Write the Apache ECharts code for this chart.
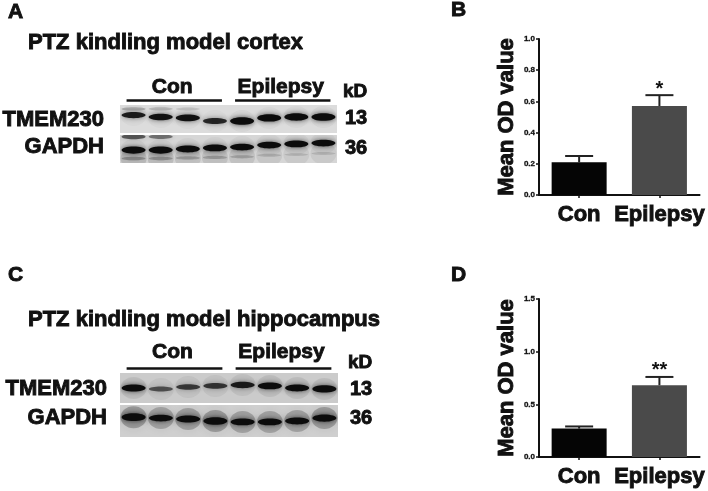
<!DOCTYPE html>
<html>
<head>
<meta charset="utf-8">
<title>TMEM230 blots</title>
<script src="https://cdn.jsdelivr.net/npm/echarts@6/dist/echarts.min.js"></script>
<style>
  html, body { margin: 0; padding: 0; background: #fff; }
  #chart { width: 708px; height: 491px; filter: blur(0.75px); }
</style>
</head>
<body>
<div id="chart"></div>
<script>
const groups = ['Con', 'Epilepsy']

// bar heights and error bar tops
const meanB = [0.21, 0.57]
const errTopB = [0.25, 0.64]
const starsB = ['', '*']
const meanD = [0.27, 0.68]
const errTopD = [0.29, 0.76]
const starsD = ['', '**']

// blot lanes, migration is 0 (top of strip) to 1 (bottom of strip)
const lanes = ['1', '2', '3', '4', '5', '6', '7', '8']
const conLanes = [0, 3]
const epiLanes = [4, 7]

const cortexTmemPos = [0.36, 0.43, 0.46, 0.57, 0.57, 0.46, 0.43, 0.43]
const cortexTmemInt = [0.75, 0.8, 0.8, 0.7, 1, 0.95, 0.95, 1]
const cortexTmemTopPos = [0.14, 0.14, 0.14]
const cortexTmemTopInt = [0.18, 0.14, 0.1]
const cortexGapdhPos = [0.54, 0.54, 0.5, 0.46, 0.43, 0.36, 0.32, 0.29]
const cortexGapdhInt = [0.9, 0.9, 0.85, 0.85, 0.85, 0.85, 0.85, 0.85]
const cortexGapdhTopPos = [0.06, 0.06]
const cortexGapdhTopInt = [0.5, 0.4]
const cortexGapdhLowPos = [0.84, 0.84, 0.82, 0.8, 0.78, 0.72, 0.7, 0.66]
const cortexGapdhLowInt = [0.22, 0.2, 0.17, 0.17, 0.15, 0.12, 0.1, 0.1]

const hippoTmemPos = [0.5, 0.53, 0.47, 0.43, 0.4, 0.43, 0.5, 0.53]
const hippoTmemInt = [0.9, 0.5, 0.6, 0.62, 0.75, 0.85, 0.85, 0.9]
const hippoGapdhPos = [0.38, 0.41, 0.44, 0.5, 0.53, 0.53, 0.5, 0.41]
const hippoGapdhInt = [1, 0.85, 0.9, 1, 0.85, 0.85, 0.85, 0.95]

const strips = [
  { left: 120, top: 105, width: 217, height: 28, bg: '#dcdcdc' },
  { left: 120, top: 135, width: 217, height: 28, bg: '#d6d6d6' },
  { left: 120, top: 373, width: 218, height: 30, bg: '#cbcbcb' },
  { left: 120, top: 405, width: 218, height: 32, bg: '#cfcfcf' }
]

function bandSeries(gridIndex, pos, strength, halo) {
  return {
    type: 'custom',
    xAxisIndex: gridIndex,
    yAxisIndex: gridIndex,
    clip: true,
    data: pos.map((p, i) => [i, p, strength[i]]),
    renderItem(params, api) {
      const c = api.coord([api.value(0), api.value(1)])
      const s = api.value(2)
      return {
        type: 'group',
        children: [
          {
            type: 'ellipse',
            shape: { cx: c[0], cy: c[1], rx: 13, ry: 11 },
            style: {
              fill: 'rgba(40,40,40,' + halo * s + ')',
              shadowBlur: 10,
              shadowColor: 'rgba(40,40,40,' + halo * s + ')'
            }
          },
          {
            type: 'ellipse',
            shape: { cx: c[0], cy: c[1], rx: 12, ry: 1.2 + 2.6 * s },
            style: {
              fill: 'rgba(12,12,12,' + Math.min(1, 1.2 * s) + ')',
              shadowBlur: 5,
              shadowColor: 'rgba(30,30,30,' + 0.8 * s + ')'
            }
          }
        ]
      }
    }
  }
}

function bracketSeries(gridIndex, textGap) {
  return {
    type: 'custom',
    xAxisIndex: gridIndex,
    yAxisIndex: gridIndex,
    data: [[conLanes[0], conLanes[1], 0], [epiLanes[0], epiLanes[1], 1]],
    renderItem(params, api) {
      const a = api.coord([api.value(0), 0])
      const b = api.coord([api.value(1), 0])
      const y = a[1] - 4.5
      return {
        type: 'group',
        children: [
          {
            type: 'line',
            shape: { x1: a[0] - 7, y1: y, x2: b[0] + 7, y2: y },
            style: { stroke: '#111', lineWidth: 2.5 }
          },
          {
            type: 'text',
            style: {
              text: groups[api.value(2)],
              x: (a[0] + b[0]) / 2 - 2,
              y: y - textGap,
              align: 'center',
              verticalAlign: 'middle',
              font: 'bold 21px "Liberation Sans"',
              fill: '#111',
              stroke: '#111',
              lineWidth: 0.9
            }
          }
        ]
      }
    }
  }
}

function errorSeries(gridIndex, tops, means, stars) {
  return {
    type: 'custom',
    xAxisIndex: gridIndex,
    yAxisIndex: gridIndex,
    data: tops.map((t, i) => [i, t, means[i]]),
    z: 1,
    renderItem(params, api) {
      const top = api.coord([api.value(0), api.value(1)])
      const base = api.coord([api.value(0), api.value(2)])
      const star = stars[params.dataIndex]
      return {
        type: 'group',
        children: [
          {
            type: 'line',
            shape: { x1: top[0], y1: top[1], x2: base[0], y2: base[1] },
            style: { stroke: '#222', lineWidth: 2 }
          },
          {
            type: 'line',
            shape: { x1: top[0] - 14, y1: top[1], x2: top[0] + 14, y2: top[1] },
            style: { stroke: '#222', lineWidth: 2 }
          },
          {
            type: 'text',
            style: {
              text: star,
              x: top[0],
              y: top[1] - 6,
              align: 'center',
              verticalAlign: 'middle',
              font: 'bold 20px "Liberation Sans"',
              fill: '#111'
            }
          }
        ]
      }
    }
  }
}

function label(text, x, y, size, align) {
  return {
    type: 'text',
    style: {
      text: text,
      x: x,
      y: y,
      align: align || 'left',
      verticalAlign: 'middle',
      font: 'bold ' + size + 'px "Liberation Sans"',
      fill: '#111',
      stroke: '#111',
      lineWidth: 0.9
    }
  }
}

const barAxisX = idx => ({
  type: 'category',
  gridIndex: idx,
  data: groups,
  axisLine: { lineStyle: { color: '#111', width: 2 } },
  axisTick: { show: true, alignWithLabel: true, length: 3, lineStyle: { color: '#111', width: 1.5 } },
  axisLabel: {
    interval: 0,
    margin: 9,
    fontFamily: 'Liberation Sans',
    fontWeight: 'bold',
    fontSize: 22,
    color: '#111',
    textBorderColor: '#111',
    textBorderWidth: 0.9
  }
})

const barAxisY = (idx, max, interval) => ({
  type: 'value',
  gridIndex: idx,
  min: 0,
  max: max,
  interval: interval,
  name: 'Mean OD value',
  nameLocation: 'middle',
  nameGap: 21,
  nameTextStyle: {
    fontFamily: 'Liberation Sans',
    fontWeight: 'bold',
    fontSize: 22,
    color: '#111',
    textBorderColor: '#111',
    textBorderWidth: 0.9
  },
  splitLine: { show: false },
  axisLine: { show: true, lineStyle: { color: '#111', width: 2 } },
  axisTick: { show: true, length: 3, lineStyle: { color: '#111', width: 1.5 } },
  axisLabel: {
    margin: 4,
    fontFamily: 'Liberation Sans',
    fontWeight: 'bold',
    fontSize: 8,
    color: '#111',
    textBorderColor: '#111',
    textBorderWidth: 0.3,
    formatter: v => v.toFixed(1)
  }
})

const barSeries = (idx, values) => ({
  type: 'bar',
  xAxisIndex: idx,
  yAxisIndex: idx,
  barWidth: 55,
  z: 2,
  data: values.map((v, i) => ({ value: v, itemStyle: { color: i === 0 ? '#050505' : '#4a4a4a' } }))
})

const chart = echarts.init(document.getElementById('chart'), null, { renderer: 'canvas' })

chart.setOption({
  animation: false,
  backgroundColor: '#fff',
  grid: [
    ...strips.map(s => ({ ...s, show: true, backgroundColor: s.bg, borderWidth: 0 })),
    { left: 539, top: 39, width: 161, height: 156 },
    { left: 539, top: 299, width: 161, height: 158 }
  ],
  xAxis: [
    ...strips.map((s, i) => ({ type: 'category', gridIndex: i, data: lanes, show: false })),
    barAxisX(4),
    barAxisX(5)
  ],
  yAxis: [
    ...strips.map((s, i) => ({ type: 'value', gridIndex: i, min: 0, max: 1, inverse: true, show: false })),
    barAxisY(4, 1, 0.2),
    barAxisY(5, 1.5, 0.5)
  ],
  series: [
    bandSeries(0, cortexTmemPos, cortexTmemInt, 0.03),
    bandSeries(0, cortexTmemTopPos, cortexTmemTopInt, 0),
    bandSeries(1, cortexGapdhLowPos, cortexGapdhLowInt, 0.7),
    bandSeries(1, cortexGapdhPos, cortexGapdhInt, 0.04),
    bandSeries(1, cortexGapdhTopPos, cortexGapdhTopInt, 0),
    bandSeries(2, hippoTmemPos, hippoTmemInt, 0.1),
    bandSeries(3, hippoGapdhPos, hippoGapdhInt, 0.3),
    bracketSeries(0, 13),
    bracketSeries(2, 16),
    barSeries(4, meanB),
    errorSeries(4, errTopB, meanB, starsB),
    barSeries(5, meanD),
    errorSeries(5, errTopD, meanD, starsD)
  ],
  graphic: [
    label('A', 8, 12, 21),
    label('B', 451, 10, 21),
    label('C', 8, 275, 21),
    label('D', 451, 275, 21),
    label('PTZ kindling model cortex', 28, 43, 22),
    label('PTZ kindling model hippocampus', 28, 320, 22),
    label('TMEM230', 104, 120, 22, 'right'),
    label('GAPDH', 104, 147, 22, 'right'),
    label('TMEM230', 107, 389, 22, 'right'),
    label('GAPDH', 107, 418, 22, 'right'),
    label('kD', 343, 92, 19),
    label('13', 345, 118, 20),
    label('36', 345, 148, 20),
    label('kD', 348, 363, 19),
    label('13', 350, 389, 20),
    label('36', 350, 418, 20)
  ]
})
</script>
</body>
</html>
